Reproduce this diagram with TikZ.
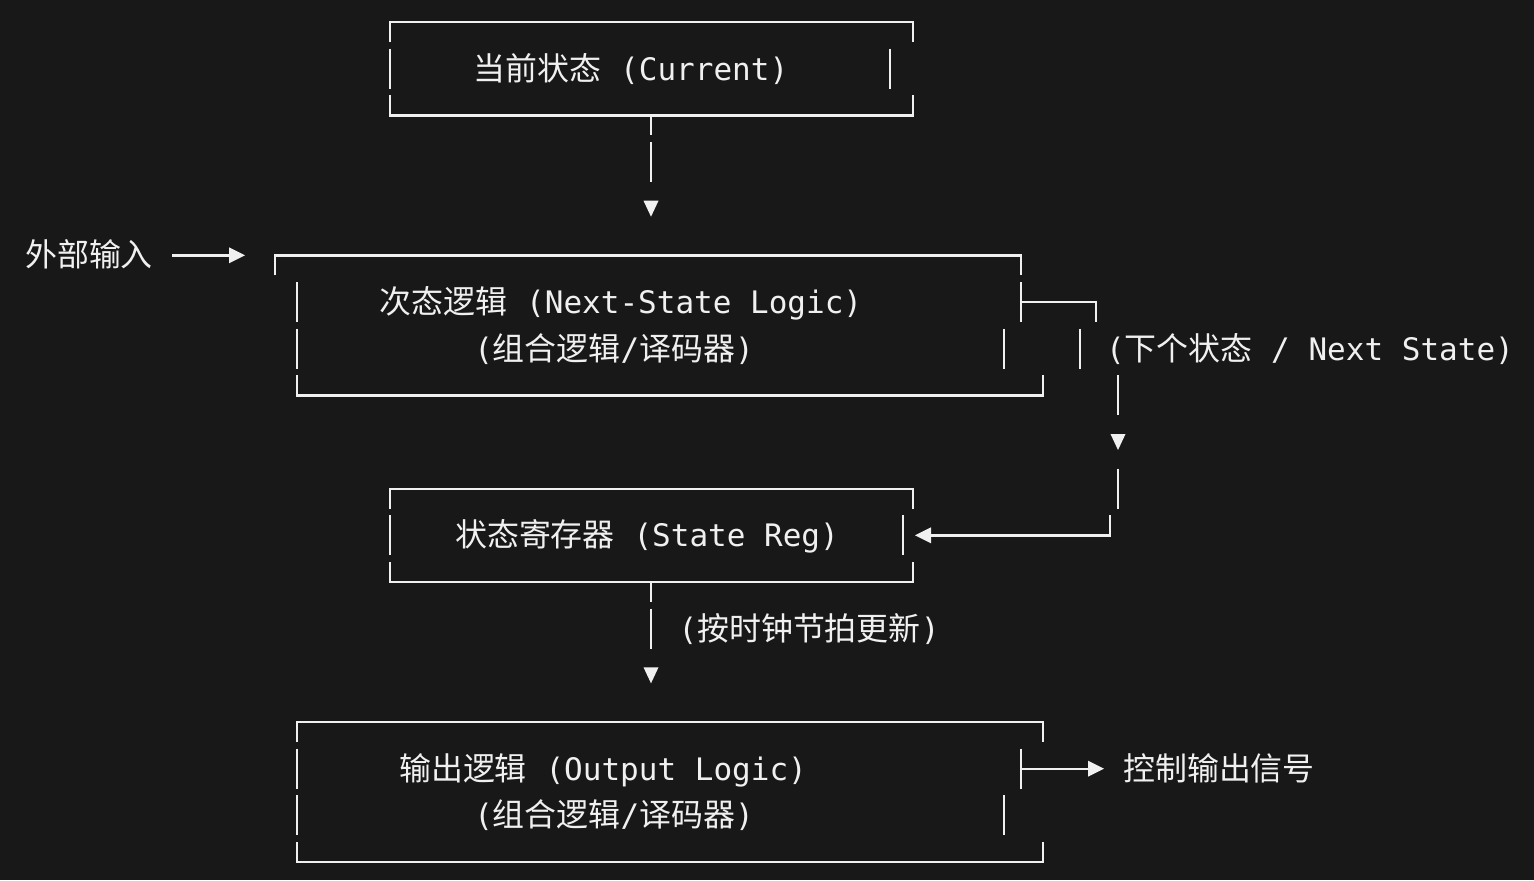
\documentclass[tikz,border=0pt]{standalone}
\usepackage{fontspec}
\setmonofont{DejaVu Sans Mono}
\newfontfamily\zh{Noto Sans CJK SC}[Scale=1.03]
\usetikzlibrary{calc}
\definecolor{bg}{RGB}{24,24,24}
\definecolor{fg}{RGB}{240,240,240}
\tikzset{bar/.style={draw=fg,line width=1.2pt}}
\tikzset{lbl/.style={anchor=base,inner sep=0pt,text=fg,font=\ttfamily\fontsize{15.5pt}{18pt}\selectfont}}
\tikzset{tipd/.pic={\fill[fg] (-7.5,-8) -- (7.5,-8) -- (0,8) -- cycle;}}
\tikzset{tipr/.pic={\fill[fg] (-8,-8) -- (-8,8) -- (8,0) -- cycle;}}
\tikzset{tipl/.pic={\fill[fg] (8,-8) -- (8,8) -- (-8,0) -- cycle;}}
\begin{document}
\begin{tikzpicture}[x=0.5pt,y=-0.5pt]
    \path[use as bounding box,fill=bg] (0,0) rectangle (1534,880);

    % labels
    \node[lbl] (cur) at (631,80.2) {{\zh 当前状态} (Current)};
    \node[lbl] (nsl) at (621,313.5) {{\zh 次态逻辑} (Next-State Logic)};
    \node[lbl] (nslsub) at (614,360.2) {({\zh 组合逻辑}/{\zh 译码器})};
    \node[lbl] (nxt) at (1310,360.2) {({\zh 下个状态} / Next State)};
    \node[lbl] (reg) at (647,546.8) {{\zh 状态寄存器} (State Reg)};
    \node[lbl] (clk) at (809,640.2) {({\zh 按时钟节拍更新})};
    \node[lbl] (outl) at (603,780.2) {{\zh 输出逻辑} (Output Logic)};
    \node[lbl] (outlsub) at (614,826.8) {({\zh 组合逻辑}/{\zh 译码器})};
    \node[lbl] (ext) at (89,266.8) {{\zh 外部输入}};
    \node[lbl] (ctl) at (1219,780.2) {{\zh 控制输出信号}};

    % connector ends
    \coordinate (cur-s) at (651,115.3);
    \coordinate (nsl-in) at (651,208.7);
    \coordinate (ext-e) at (172,255.3);
    \coordinate (nsl-w) at (245,255.3);
    \coordinate (nsl-e) at (1021,302);
    \coordinate (reg-e) at (915,535.3);
    \coordinate (reg-s) at (651,582);
    \coordinate (outl-in) at (651,675.3);
    \coordinate (outl-e) at (1021,768.7);
    \coordinate (ctl-w) at (1104,768.7);

    % box: current state
    \draw[bar] (390,42) -- (390,22) -- (913,22) -- (913,42);
    \draw[bar] (390,48.7) -- (390,88.7) (890,48.7) -- (890,88.7);
    \draw[bar] (390,95.3) -- (390,115.3) -- (913,115.3) -- (913,95.3);

    % box: next-state logic
    \draw[bar] (275,275.3) -- (275,255.3) -- (1021,255.3) -- (1021,275.3);
    \draw[bar] (297,282) -- (297,322) (1021,282) -- (1021,322);
    \draw[bar] (297,328.7) -- (297,368.7) (1004,328.7) -- (1004,368.7);
    \draw[bar] (297,375.3) -- (297,395.3) -- (1043,395.3) -- (1043,375.3);

    % box: state register
    \draw[bar] (390,508.7) -- (390,488.7) -- (913,488.7) -- (913,508.7);
    \draw[bar] (390,515.3) -- (390,555.3) (903,515.3) -- (903,555.3);
    \draw[bar] (390,562) -- (390,582) -- (913,582) -- (913,562);

    % box: output logic
    \draw[bar] (297,742) -- (297,722) -- (1043,722) -- (1043,742);
    \draw[bar] (297,748.7) -- (297,788.7) (1021,748.7) -- (1021,788.7);
    \draw[bar] (297,795.3) -- (297,835.3) (1004,795.3) -- (1004,835.3);
    \draw[bar] (297,842) -- (297,862) -- (1043,862) -- (1043,842);

    % current -> next-state logic
    \draw[bar] (cur-s) -- +(0,20) ++(0,26.7) -- +(0,40);
    \pic at (nsl-in) {tipd};

    % input -> next-state logic
    \draw[bar] (ext-e) -- ($(nsl-w)+(-16,0)$);
    \pic at ($(nsl-w)+(-8,0)$) {tipr};

    % next state -> state register
    \draw[bar] (nsl-e) -- (1096,302) -- (1096,322);
    \draw[bar] (1080,328.7) -- (1080,368.7);
    \draw[bar] (1118,375.3) -- (1118,415.3);
    \pic at (1118,442) {tipd};
    \draw[bar] (1118,468.7) -- (1118,508.7);
    \draw[bar] (1110,515.3) -- (1110,535.3) -- ($(reg-e)+(16,0)$);
    \pic at ($(reg-e)+(8,0)$) {tipl};

    % state register -> output logic
    \draw[bar] (reg-s) -- +(0,20) ++(0,26.7) -- +(0,40);
    \pic at (outl-in) {tipd};

    % output logic -> control signals
    \draw[bar] (outl-e) -- ($(ctl-w)+(-16,0)$);
    \pic at ($(ctl-w)+(-8,0)$) {tipr};
\end{tikzpicture}
\end{document}
